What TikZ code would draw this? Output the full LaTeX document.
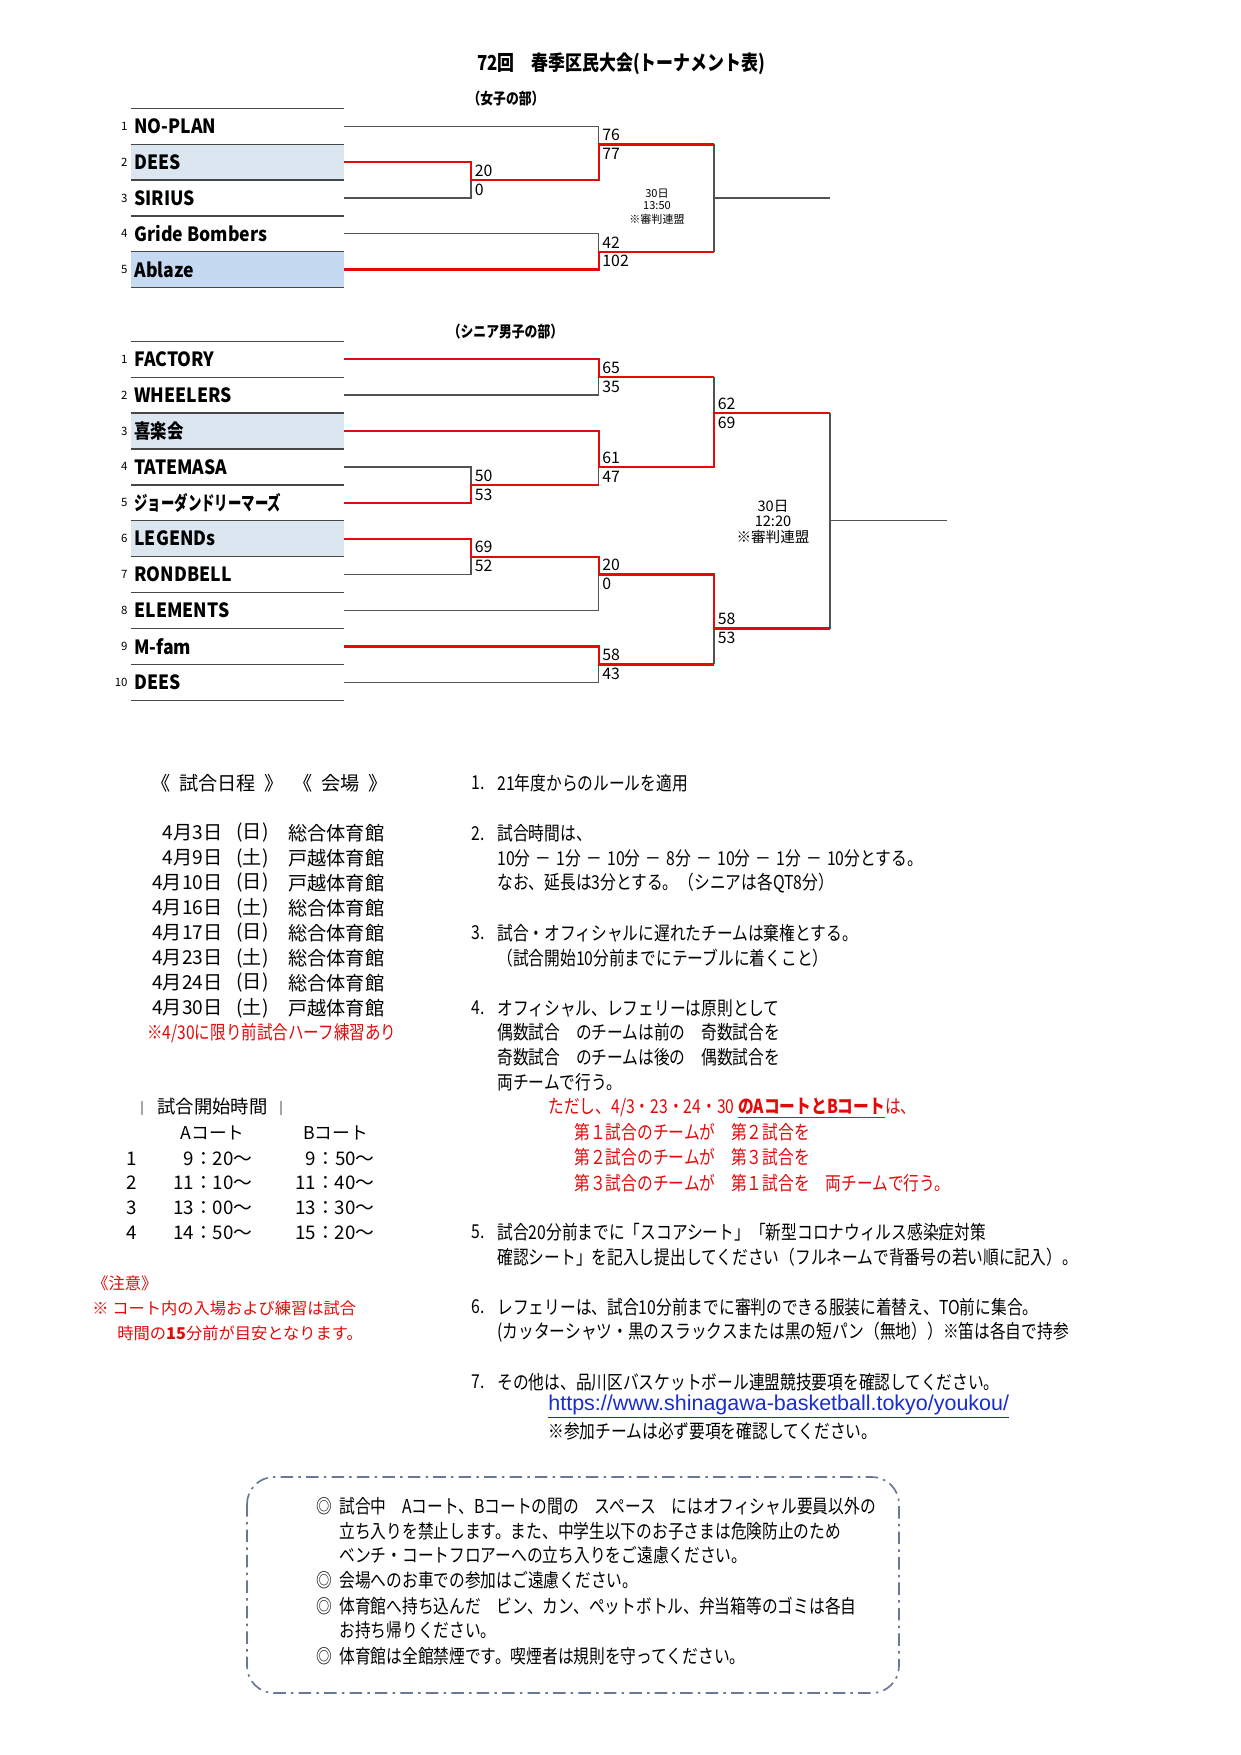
\documentclass[tikz,border=0pt]{standalone}
\usepackage{fontspec}
\setmainfont{Noto Sans CJK JP}
\newfontfamily\jpn[FakeStretch=0.82]{Noto Sans CJK JP}
\newfontfamily\tnf[FakeStretch=0.9]{Noto Sans CJK JP}
\newfontfamily\latf{Liberation Sans}
\definecolor{bred}{RGB}{228,10,10}
\definecolor{lnk}{RGB}{25,45,205}
\definecolor{shA}{RGB}{220,230,241}
\definecolor{shB}{RGB}{197,217,241}
\definecolor{boxc}{RGB}{105,120,148}
\begin{document}
\begin{tikzpicture}[x=0.4797pt,y=-0.4797pt,
  rowline/.style={draw=black!72,line width=0.65pt},
  gl/.style={draw=black!68,line width=0.6pt},
  rl/.style={draw=bred,line width=1.15pt},
  team/.style={anchor=west,inner sep=0pt,font=\tnf\fontsize{9.4}{11}\selectfont\bfseries},
  tnum/.style={anchor=east,inner sep=0pt,font=\fontsize{5.5}{6}\selectfont},
  score/.style={anchor=west,inner sep=0pt,font=\fontsize{7.6}{8}\selectfont},
  note/.style={anchor=west,inner sep=0pt,font=\jpn\fontsize{9.2}{10}\selectfont},
  rnote/.style={note,text=bred},
  date/.style={inner sep=0pt,font=\fontsize{9.2}{10}\selectfont},
  tim/.style={inner sep=0pt,font=\fontsize{9}{10}\selectfont},
  caut/.style={anchor=west,inner sep=0pt,text=bred,font=\fontsize{7.8}{9}\selectfont},
  ctr/.style={inner sep=0pt,font=\fontsize{5.3}{6}\selectfont},
  ctrb/.style={inner sep=0pt,font=\fontsize{7}{8}\selectfont}]
\useasboundingbox (0,0) rectangle (1241,1755);
\fill[white] (0,0) rectangle (1241,1755);

% ---------- titles ----------
\node[font=\jpn\bfseries\fontsize{9.9}{12}\selectfont] (title) at (621,64) {72回　春季区民大会(トーナメント表)};
\node[font=\jpn\bfseries\fontsize{7.5}{9}\selectfont] (wsec) at (506,98.5) {（女子の部）};
\node[font=\jpn\bfseries\fontsize{7.5}{9}\selectfont] (msec) at (505.5,332) {（シニア男子の部）};

% ---------- shading ----------
\fill[shA] (131,144.3) rectangle (343.5,180.1);
\fill[shB] (131,251.8) rectangle (343.5,287.6);
\fill[shA] (131,413.1) rectangle (343.5,449.0);
\fill[shA] (131,520.8) rectangle (343.5,556.7);

% ---------- row lines ----------
\foreach \yy in {108.5,144.3,180.1,216.0,251.8,287.6,341.3,377.2,413.1,449.0,484.9,520.8,556.7,592.6,628.5,664.4,700.3}
  \draw[rowline] (131,\yy) -- (343.5,\yy);

% ---------- women teams ----------
\node[tnum] (wn1) at (128,126.4) {1};
\node[team] (wt1) at (134,126.4) {NO-PLAN};
\node[tnum] (wn2) at (128,162.2) {2};
\node[team] (wt2) at (134,162.2) {DEES};
\node[tnum] (wn3) at (128,198.0) {3};
\node[team] (wt3) at (134,198.0) {SIRIUS};
\node[tnum] (wn4) at (128,233.8) {4};
\node[team] (wt4) at (134,233.8) {Gride Bombers};
\node[tnum] (wn5) at (128,269.6) {5};
\node[team] (wt5) at (134,269.6) {Ablaze};

\coordinate (w1) at (343.5,126.4);
\coordinate (w2) at (343.5,162.2);
\coordinate (w3) at (343.5,198.0);
\coordinate (w4) at (343.5,233.8);
\coordinate (w5) at (343.5,269.6);
\coordinate (WA) at (471,180.1);
\coordinate (WB1) at (598.7,144.3);
\coordinate (WB2) at (598.7,251.8);
\coordinate (WC1) at (714,144.3);
\coordinate (WC2) at (714,251.8);
\coordinate (WCm) at (714,198.0);
\coordinate (WE) at (830,198.0);

\draw[gl] (w1) -| (WB1);
\draw[gl] (w3) -| (WA);
\draw[gl] (w4) -| (WB2);
\draw[gl] (WC1) -- (WC2);
\draw[gl] (WCm) -- (WE);
\draw[rl] (w2) -| (WA) -| (WB1) -- (WC1);
\draw[rl] (w5) -| (WB2) -- (WC2);

\node[score] (ws1) at (474.5,170.6) {20};
\node[score] (ws2) at (474.5,189.6) {0};
\node[score] (ws3) at (602,134.8) {76};
\node[score] (ws4) at (602,153.8) {77};
\node[score] (ws5) at (602,242.3) {42};
\node[score] (ws6) at (602,261.3) {102};

\node[ctr] (wc1) at (657,194) {30日};
\node[ctr] (wc2) at (657,206) {13:50};
\node[ctr] (wc3) at (657,219) {※審判連盟};

% ---------- men teams ----------
\node[tnum] (mn1) at (128,359.2) {1};
\node[team] (mt1) at (134,359.2) {FACTORY};
\node[tnum] (mn2) at (128,395.1) {2};
\node[team] (mt2) at (134,395.1) {WHEELERS};
\node[tnum] (mn3) at (128,431.0) {3};
\node[team] (mt3) at (134,431.0) {\scalebox{0.93}[1]{喜楽会}};
\node[tnum] (mn4) at (128,466.9) {4};
\node[team] (mt4) at (134,466.9) {TATEMASA};
\node[tnum] (mn5) at (128,502.8) {5};
\node[team] (mt5) at (134,502.8) {\scalebox{0.76}[1]{ジョーダンドリーマーズ}};
\node[tnum] (mn6) at (128,538.7) {6};
\node[team] (mt6) at (134,538.7) {LEGENDs};
\node[tnum] (mn7) at (128,574.6) {7};
\node[team] (mt7) at (134,574.6) {RONDBELL};
\node[tnum] (mn8) at (128,610.5) {8};
\node[team] (mt8) at (134,610.5) {ELEMENTS};
\node[tnum] (mn9) at (128,646.4) {9};
\node[team] (mt9) at (134,646.4) {M-fam};
\node[tnum] (mn10) at (128,682.3) {10};
\node[team] (mt10) at (134,682.3) {DEES};

\coordinate (m1) at (343.5,359.2);
\coordinate (m2) at (343.5,395.1);
\coordinate (m3) at (343.5,431.0);
\coordinate (m4) at (343.5,466.9);
\coordinate (m5) at (343.5,502.8);
\coordinate (m6) at (343.5,538.7);
\coordinate (m7) at (343.5,574.6);
\coordinate (m8) at (343.5,610.5);
\coordinate (m9) at (343.5,646.4);
\coordinate (m10) at (343.5,682.3);
\coordinate (MA1) at (471,484.9);
\coordinate (MA1r) at (598.7,484.9);
\coordinate (MA2) at (471,556.7);
\coordinate (MB1) at (598.7,377.2);
\coordinate (MB2) at (598.7,466.9);
\coordinate (MB3) at (598.7,574.6);
\coordinate (MB4) at (598.7,664.4);
\coordinate (MC1t) at (714,377.2);
\coordinate (MC1) at (714,413.1);
\coordinate (MC1b) at (714,466.9);
\coordinate (MC2t) at (714,574.6);
\coordinate (MC2) at (714,628.5);
\coordinate (MC2b) at (714,664.4);
\coordinate (MD1) at (830,413.1);
\coordinate (MD2) at (830,628.5);
\coordinate (MD) at (830,520.8);
\coordinate (ME) at (946.7,520.8);

\draw[gl] (m2) -| (MB1);
\draw[gl] (m4) -| (MA1);
\draw[gl] (m7) -| (MA2);
\draw[gl] (m8) -| (MB3);
\draw[gl] (m10) -| (MB4);
\draw[gl] (MA1r) -- (MB2);
\draw[gl] (MC1t) -- (MC1);
\draw[gl] (MC2b) -- (MC2);
\draw[gl] (MD1) -- (MD2);
\draw[gl] (MD) -- (ME);
\draw[rl] (m1) -| (MB1) -- (MC1t);
\draw[rl] (m3) -| (MB2) -- (MC1b) -- (MC1) -- (MD1);
\draw[rl] (m5) -| (MA1) -- (MA1r);
\draw[rl] (m6) -| (MA2) -| (MB3) -- (MC2t) -- (MC2) -- (MD2);
\draw[rl] (m9) -| (MB4) -- (MC2b);

\node[score] (ms1) at (602,367.7) {65};
\node[score] (ms2) at (602,386.7) {35};
\node[score] (ms3) at (602,457.4) {61};
\node[score] (ms4) at (602,476.4) {47};
\node[score] (ms5) at (474.5,475.4) {50};
\node[score] (ms6) at (474.5,494.4) {53};
\node[score] (ms7) at (474.5,547.2) {69};
\node[score] (ms8) at (474.5,566.2) {52};
\node[score] (ms9) at (602,565.1) {20};
\node[score] (ms10) at (602,584.1) {0};
\node[score] (ms11) at (602,654.9) {58};
\node[score] (ms12) at (602,673.9) {43};
\node[score] (ms13) at (717.5,403.6) {62};
\node[score] (ms14) at (717.5,422.6) {69};
\node[score] (ms15) at (717.5,619.0) {58};
\node[score] (ms16) at (717.5,638.0) {53};

\node[ctrb] (mc1) at (773,506) {30日};
\node[ctrb] (mc2) at (773,521.5) {12:20};
\node[ctrb] (mc3) at (773,537) {※審判連盟};

% ---------- schedule ----------
\node[date,anchor=west] (sh1) at (151,783) {《\hspace{0.45em}試合日程\hspace{0.45em}》};
\node[date,anchor=west] (sh2) at (293,783) {《\hspace{0.45em}会場\hspace{0.45em}》};
\node[date,anchor=east] (d1) at (223,833) {4月3日};
\node[date,anchor=west] (dw1) at (236,833) {(日)};
\node[date,anchor=west] (dv1) at (288,833) {総合体育館};
\node[date,anchor=east] (d2) at (223,858) {4月9日};
\node[date,anchor=west] (dw2) at (236,858) {(土)};
\node[date,anchor=west] (dv2) at (288,858) {戸越体育館};
\node[date,anchor=east] (d3) at (223,883) {4月10日};
\node[date,anchor=west] (dw3) at (236,883) {(日)};
\node[date,anchor=west] (dv3) at (288,883) {戸越体育館};
\node[date,anchor=east] (d4) at (223,908) {4月16日};
\node[date,anchor=west] (dw4) at (236,908) {(土)};
\node[date,anchor=west] (dv4) at (288,908) {総合体育館};
\node[date,anchor=east] (d5) at (223,933) {4月17日};
\node[date,anchor=west] (dw5) at (236,933) {(日)};
\node[date,anchor=west] (dv5) at (288,933) {総合体育館};
\node[date,anchor=east] (d6) at (223,958) {4月23日};
\node[date,anchor=west] (dw6) at (236,958) {(土)};
\node[date,anchor=west] (dv6) at (288,958) {総合体育館};
\node[date,anchor=east] (d7) at (223,983) {4月24日};
\node[date,anchor=west] (dw7) at (236,983) {(日)};
\node[date,anchor=west] (dv7) at (288,983) {総合体育館};
\node[date,anchor=east] (d8) at (223,1008) {4月30日};
\node[date,anchor=west] (dw8) at (236,1008) {(土)};
\node[date,anchor=west] (dv8) at (288,1008) {戸越体育館};
\node[anchor=west,inner sep=0pt,text=bred,font=\jpn\fontsize{9.1}{10}\selectfont] (dnote) at (147,1033) {※4/30に限り前試合ハーフ練習あり};

% ---------- start times ----------
\draw[gray!70,line width=0.7pt] (142,1101) -- (142,1115);
\draw[gray!70,line width=0.7pt] (281,1101) -- (281,1115);
\node[anchor=west,inner sep=0pt,font=\fontsize{8.8}{10}\selectfont] (sth) at (157,1107) {試合開始時間};
\node[inner sep=0pt,font=\fontsize{8.5}{10}\selectfont] (ca) at (212.5,1133) {Aコート};
\node[inner sep=0pt,font=\fontsize{8.5}{10}\selectfont] (cb) at (335.5,1133) {Bコート};
\node[tim] (r1) at (132,1159) {1};
\node[tim,anchor=east] (a1) at (253,1159) {9：20～};
\node[tim,anchor=east] (b1) at (375,1159) {9：50～};
\node[tim] (r2) at (132,1183) {2};
\node[tim,anchor=east] (a2) at (253,1183) {11：10～};
\node[tim,anchor=east] (b2) at (375,1183) {11：40～};
\node[tim] (r3) at (132,1208) {3};
\node[tim,anchor=east] (a3) at (253,1208) {13：00～};
\node[tim,anchor=east] (b3) at (375,1208) {13：30～};
\node[tim] (r4) at (132,1233) {4};
\node[tim,anchor=east] (a4) at (253,1233) {14：50～};
\node[tim,anchor=east] (b4) at (375,1233) {15：20～};

% ---------- caution ----------
\node[caut] (cu1) at (92,1283) {《注意》};
\node[caut] (cu2) at (92,1308) {※ コート内の入場および練習は試合};
\node[caut] (cu3) at (117,1333) {時間の\textbf{15}分前が目安となります。};

% ---------- rules ----------
\node[note] (n1) at (471,783) {1.};
\node[note] (t1) at (497,783) {21年度からのルールを適用};
\node[note] (n2) at (471,833.5) {2.};
\node[note] (t2a) at (497,833.5) {試合時間は、};
\node[note] (t2b) at (497,858) {10分\kern2.5pt－\kern2.5pt1分\kern2.5pt－\kern2.5pt10分\kern2.5pt－\kern2.5pt8分\kern2.5pt－\kern2.5pt10分\kern2.5pt－\kern2.5pt1分\kern2.5pt－\kern2.5pt10分とする。};
\node[note] (t2c) at (497,883) {なお、延長は3分とする。（シニアは各QT8分）};
\node[note] (n3) at (471,933) {3.};
\node[note] (t3a) at (497,933) {試合・オフィシャルに遅れたチームは棄権とする。};
\node[note] (t3b) at (497,958) {（試合開始10分前までにテーブルに着くこと）};
\node[note] (n4) at (471,1008) {4.};
\node[note] (t4a) at (497,1008) {オフィシャル、レフェリーは原則として};
\node[note] (t4b) at (497,1032) {偶数試合　のチームは前の　奇数試合を};
\node[note] (t4c) at (497,1057) {奇数試合　のチームは後の　偶数試合を};
\node[note] (t4d) at (497,1082) {両チームで行う。};
\node[rnote] (t4e) at (548,1108) {ただし、4/3・23・24・30 \underline{\bfseries のAコートとBコート}は、};
\node[rnote] (t4f) at (574,1132) {第１試合のチームが　第２試合を};
\node[rnote] (t4g) at (574,1157) {第２試合のチームが　第３試合を};
\node[rnote] (t4h) at (574,1183) {第３試合のチームが　第１試合を　両チームで行う。};
\node[note] (n5) at (471,1232) {5.};
\node[note] (t5a) at (497,1232) {試合20分前までに「スコアシート」「新型コロナウィルス感染症対策};
\node[note] (t5b) at (497,1257) {確認シート」を記入し提出してください（フルネームで背番号の若い順に記入）。};
\node[note] (n6) at (471,1307) {6.};
\node[note] (t6a) at (497,1307) {レフェリーは、試合10分前までに審判のできる服装に着替え、TO前に集合。};
\node[note] (t6b) at (497,1332) {(カッターシャツ・黒のスラックスまたは黒の短パン（無地））※笛は各自で持参};
\node[note] (n7) at (471,1382) {7.};
\node[note] (t7a) at (497,1382) {その他は、品川区バスケットボール連盟競技要項を確認してください。};
\node[anchor=west,inner sep=0pt,text=lnk,font=\latf\fontsize{10.3}{11}\selectfont] (url) at (548,1407) {\underline{https://www.shinagawa-basketball.tokyo/youkou/}};
\node[note] (t7c) at (548,1431) {※参加チームは必ず要項を確認してください。};

% ---------- dashed box ----------
\draw[boxc,line width=0.8pt,rounded corners=13pt,dash pattern=on 6pt off 2.5pt on 1.2pt off 2.5pt] (247,1477) rectangle (899,1693);
\node[note] (bm1) at (316,1506) {◎};
\node[note] (bx1) at (339,1506) {試合中　Aコート、Bコートの間の　スペース　にはオフィシャル要員以外の};
\node[note] (bx2) at (339,1531) {立ち入りを禁止します。また、中学生以下のお子さまは危険防止のため};
\node[note] (bx3) at (339,1555) {ベンチ・コートフロアーへの立ち入りをご遠慮ください。};
\node[note] (bm2) at (316,1580) {◎};
\node[note] (bx4) at (339,1580) {会場へのお車での参加はご遠慮ください。};
\node[note] (bm3) at (316,1606) {◎};
\node[note] (bx5) at (339,1606) {体育館へ持ち込んだ　ビン、カン、ペットボトル、弁当箱等のゴミは各自};
\node[note] (bx6) at (339,1630) {お持ち帰りください。};
\node[note] (bm4) at (316,1656) {◎};
\node[note] (bx7) at (339,1656) {体育館は全館禁煙です。喫煙者は規則を守ってください。};
\end{tikzpicture}
\end{document}
